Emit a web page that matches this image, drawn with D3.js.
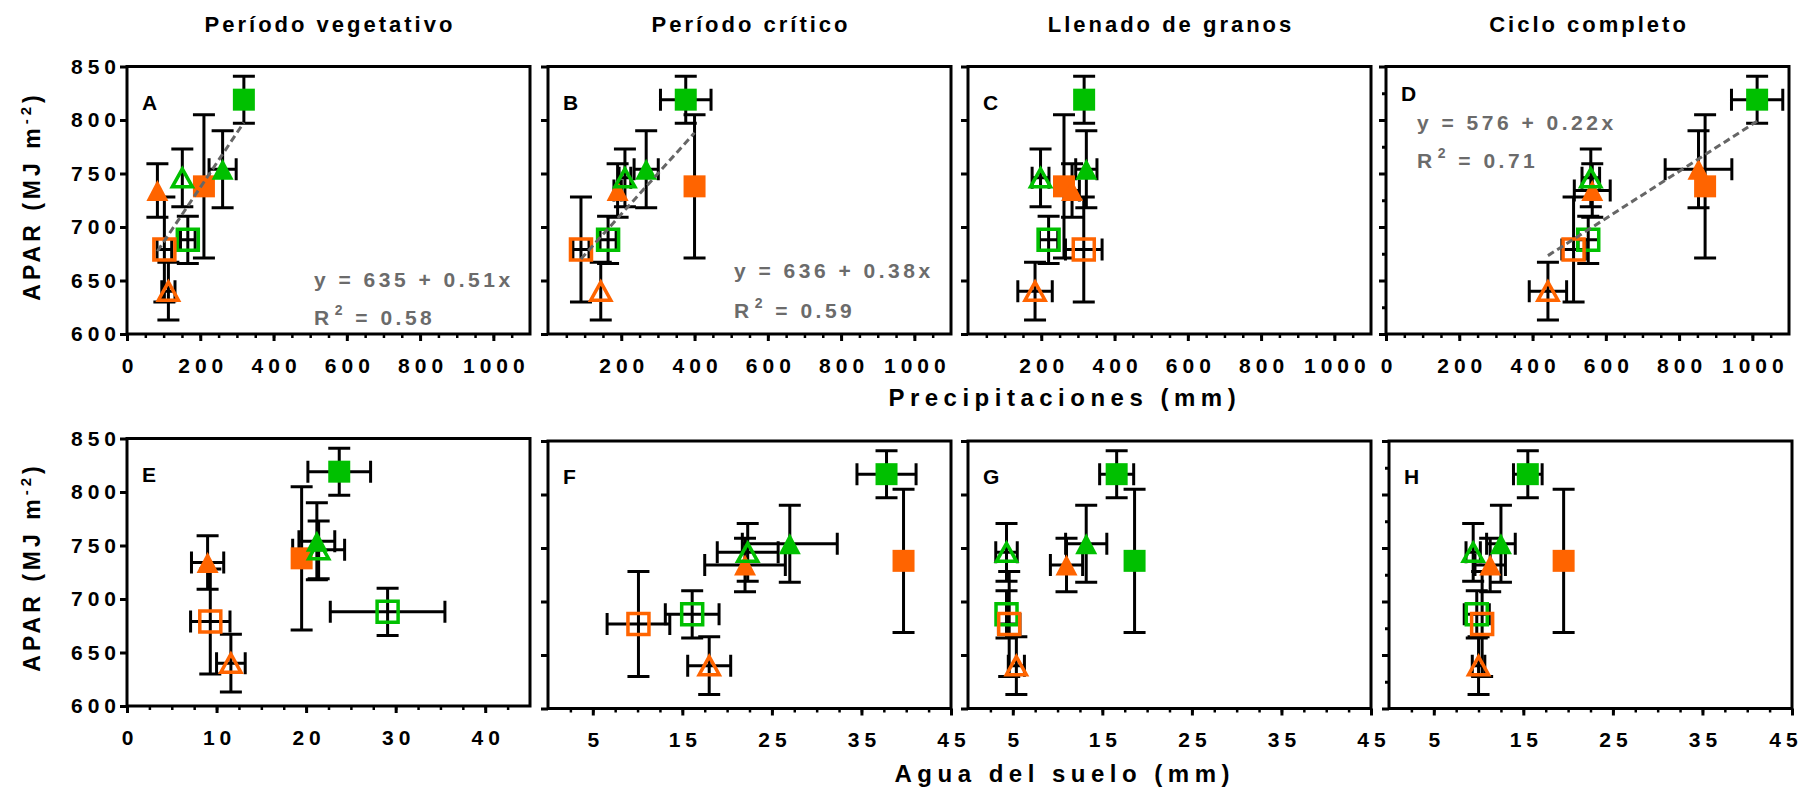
<!DOCTYPE html>
<html>
<head>
<meta charset="utf-8">
<script src="https://cdn.jsdelivr.net/npm/d3@7/dist/d3.min.js"></script>
<style>
  body { margin: 0; background: #fff; }
  svg text { font-family: "Liberation Sans", Arial, sans-serif; font-weight: bold; }
</style>
</head>
<body>
<div id="chart"></div>
<script>
// series order: green filled sq, orange filled sq, green filled tri, orange filled tri,
// green open tri, orange open tri, green open sq, orange open sq
var seriesShape = ['square', 'square', 'triangle', 'triangle', 'triangle', 'triangle', 'square', 'square'];
var seriesColor = ['green', 'orange', 'green', 'orange', 'green', 'orange', 'green', 'orange'];
var seriesOpen  = [false, false, false, false, true, true, true, true];

// APAR (MJ m-2), same in every panel
var apar    = [819, 738, 754, 734, 746, 640, 688, 679];
var aparErr = [22, 67, 36, 25, 27, 27, 22, 49];

// Precipitaciones (mm)
var ppVeg      = [319, 210, 261, 83, 151, 113, 166, 102];
var ppVegErr   = [0, 0, 37, 0, 0, 18, 20, 20];
var ppCrit     = [376, 400, 268, 190, 210, 144, 164, 90];
var ppCritErr  = [69, 0, 33, 10, 16, 0, 22, 22];
var ppLlen     = [317, 262, 323, 284, 198, 183, 220, 316];
var ppLlenErr  = [0, 0, 29, 20, 23, 47, 25, 50];
var ppCiclo    = [1013, 871, 853, 563, 559, 442, 552, 512];
var ppCicloErr = [70, 0, 91, 49, 24, 51, 28, 32];

// Agua del suelo (mm)
var swVeg      = [23.7, 19.5, 21.2, 9.0, 21.4, 11.6, 29.1, 9.3];
var swVegErr   = [3.5, 0, 2.0, 1.8, 2.9, 1.6, 6.4, 2.2];
var swCrit     = [37.8, 39.7, 27.0, 22.0, 22.3, 18.0, 16.1, 10.1];
var swCritErr  = [3.3, 0, 5.3, 4.5, 3.4, 2.4, 3.0, 3.5];
var swLlen     = [16.6, 18.6, 13.2, 11.0, 4.3, 5.4, 4.3, 4.6];
var swLlenErr  = [1.9, 0, 2.3, 1.8, 1.2, 0.9, 0, 1.2];
var swCiclo    = [15.5, 19.5, 12.5, 11.3, 9.4, 10.0, 9.8, 10.4];
var swCicloErr = [1.6, 0, 1.6, 1.7, 0.8, 0.7, 1.4, 0];

var stageTitles = ['Período vegetativo', 'Período crítico', 'Llenado de granos', 'Ciclo completo'];
var ppTicks   = [0, 200, 400, 600, 800, 1000];
var swTicksE  = [0, 10, 20, 30, 40];
var swTicks   = [5, 15, 25, 35, 45];
var aparTicks = [600, 650, 700, 750, 800, 850];
var aparMinor = [625, 675, 725, 775, 825];

// linear fits
var fitPanels    = ['A', 'B', 'D'];
var fitIntercept = [635, 636, 576];
var fitSlope     = [0.51, 0.38, 0.22];
var fitR2        = [0.58, 0.59, 0.71];

var colors = { green: '#00c000', orange: '#ff6400' };
// the original swaps a couple of colours
var colorFix = { D: { 2: 'orange' }, G: { 1: 'green' } };

var W = 1807, H = 787, PW = 403, PH = 267.5;
var TICK_LS = 5;

var panels = [
  { id: 'A', xs: ppVeg,   xe: ppVegErr,   left: 127,  top: 66.5, dom: [0, 1100], major: ppTicks,          step: 50,  yLabels: true },
  { id: 'B', xs: ppCrit,  xe: ppCritErr,  left: 548,  top: 66.5, dom: [0, 1100], major: ppTicks.slice(1), step: 50 },
  { id: 'C', xs: ppLlen,  xe: ppLlenErr,  left: 968,  top: 66.5, dom: [0, 1100], major: ppTicks.slice(1), step: 50 },
  { id: 'D', xs: ppCiclo, xe: ppCicloErr, left: 1386, top: 66.5, dom: [0, 1100], major: ppTicks,          step: 50,  yMinor: true, letterY: 34 },
  { id: 'E', xs: swVeg,   xe: swVegErr,   left: 127,  top: 438.5, dom: [0, 45],  major: swTicksE,         step: 2.5, yLabels: true },
  { id: 'F', xs: swCrit,  xe: swCritErr,  left: 548,  top: 441,  dom: [0, 45],   major: swTicks,          step: 2.5 },
  { id: 'G', xs: swLlen,  xe: swLlenErr,  left: 968,  top: 441,  dom: [0, 45],   major: swTicks,          step: 2.5 },
  { id: 'H', xs: swCiclo, xe: swCicloErr, left: 1389, top: 441,  dom: [0, 45],   major: swTicks,          step: 2.5, yMinor: true, lastShift: -9 }
];
var fitTextPos = { A: [187, 220.5, 258.5], B: [186, 211.5, 251.5], D: [31, 63.5, 101.5] };

var svg = d3.select('#chart').append('svg')
  .attr('width', W)
  .attr('height', H);

function styleAxis(sel) {
  sel.select('.domain').remove();
  sel.selectAll('line').attr('stroke', '#000').attr('stroke-width', 3);
  sel.selectAll('text')
    .attr('fill', '#000')
    .style('font-size', '21px')
    .style('letter-spacing', TICK_LS + 'px');
}

function markerPath(shape, open) {
  if (shape === 'square') {
    var s = open ? 10.5 : 11;
    return 'M' + (-s) + ',' + (-s) + 'H' + s + 'V' + s + 'H' + (-s) + 'Z';
  }
  var w = open ? 10 : 11, h = open ? 9 : 10.5;
  return 'M0,' + (-h) + 'L' + w + ',' + h + 'L' + (-w) + ',' + h + 'Z';
}

panels.forEach(function(p) {
  var g = svg.append('g').attr('transform', 'translate(' + p.left + ',' + p.top + ')');
  var x = d3.scaleLinear().domain(p.dom).range([0, PW]);
  var y = d3.scaleLinear().domain([600, 850]).range([PH, 0]);

  // y axis
  var yAx = g.append('g').call(d3.axisLeft(y).tickValues(aparTicks).tickSize(7).tickPadding(4)
    .tickFormat(p.yLabels ? d3.format('d') : ''));
  styleAxis(yAx);
  yAx.selectAll('text').attr('dx', TICK_LS);
  if (p.yMinor) {
    styleAxis(g.append('g').call(d3.axisLeft(y).tickValues(aparMinor).tickSize(4).tickFormat('')));
  }

  // x axis, minor then major
  var minor = d3.range(p.step, p.dom[1] - p.step / 2, p.step);
  var xMin = g.append('g').attr('transform', 'translate(0,' + PH + ')')
    .call(d3.axisBottom(x).tickValues(minor).tickSize(4).tickFormat(''));
  styleAxis(xMin);
  xMin.selectAll('line').attr('stroke-width', 2.5);
  var xAx = g.append('g').attr('transform', 'translate(0,' + PH + ')')
    .call(d3.axisBottom(x).tickValues(p.major).tickSize(7).tickPadding(17).tickFormat(d3.format('d')));
  styleAxis(xAx);
  xAx.selectAll('text').attr('dx', function(d, i, n) {
    return TICK_LS / 2 + (p.lastShift && i === n.length - 1 ? p.lastShift : 0);
  });

  // frame
  g.append('rect')
    .attr('width', PW)
    .attr('height', PH)
    .attr('fill', 'none')
    .attr('stroke', '#000')
    .attr('stroke-width', 3);

  // panel letter
  g.append('text')
    .attr('x', 15)
    .attr('y', p.letterY || 43)
    .style('font-size', '21px')
    .text(p.id);

  var idx = d3.range(apar.length);

  // error bars
  var eb = g.append('g').attr('stroke', '#000').attr('stroke-width', 3).attr('fill', 'none');
  idx.forEach(function(i) {
    var cx = x(p.xs[i]), cy = y(apar[i]);
    var y0 = y(apar[i] - aparErr[i]), y1 = y(apar[i] + aparErr[i]);
    eb.append('path').attr('d', 'M' + cx + ',' + y0 + 'V' + y1 +
      'M' + (cx - 11) + ',' + y0 + 'H' + (cx + 11) +
      'M' + (cx - 11) + ',' + y1 + 'H' + (cx + 11));
    if (p.xe[i] > 0) {
      var x0 = x(p.xs[i] - p.xe[i]), x1 = x(p.xs[i] + p.xe[i]);
      eb.append('path').attr('d', 'M' + x0 + ',' + cy + 'H' + x1 +
        'M' + x0 + ',' + (cy - 11) + 'V' + (cy + 11) +
        'M' + x1 + ',' + (cy - 11) + 'V' + (cy + 11));
    }
  });

  // markers
  idx.forEach(function(i) {
    var c = colors[(colorFix[p.id] && colorFix[p.id][i]) || seriesColor[i]];
    g.append('path')
      .attr('transform', 'translate(' + x(p.xs[i]) + ',' + y(apar[i]) + ')')
      .attr('d', markerPath(seriesShape[i], seriesOpen[i]))
      .attr('fill', seriesOpen[i] ? 'none' : c)
      .attr('stroke', seriesOpen[i] ? c : 'none')
      .attr('stroke-width', 3.5);
  });

  // fit line and equation
  var k = fitPanels.indexOf(p.id);
  if (k >= 0) {
    var ext = d3.extent(p.xs);
    g.append('line')
      .attr('x1', x(ext[0])).attr('y1', y(fitIntercept[k] + fitSlope[k] * ext[0]))
      .attr('x2', x(ext[1])).attr('y2', y(fitIntercept[k] + fitSlope[k] * ext[1]))
      .attr('stroke', '#666')
      .attr('stroke-width', 3)
      .attr('stroke-dasharray', '7,4');
    var tp = fitTextPos[p.id];
    g.append('text')
      .attr('x', tp[0]).attr('y', tp[1])
      .attr('fill', '#6b6b6b')
      .style('font-size', '21px')
      .style('letter-spacing', '3.5px')
      .text('y = ' + fitIntercept[k] + ' + ' + fitSlope[k].toFixed(2) + 'x');
    var r = g.append('text')
      .attr('x', tp[0]).attr('y', tp[2])
      .attr('fill', '#6b6b6b')
      .style('font-size', '21px')
      .style('letter-spacing', '3.5px');
    r.append('tspan').text('R');
    r.append('tspan').attr('dx', 2).attr('dy', -10).style('font-size', '14px').text('2');
    r.append('tspan').attr('dy', 10).text(' = ' + fitR2[k].toFixed(2));
  }
});

// stage titles
stageTitles.forEach(function(t, i) {
  svg.append('text')
    .attr('x', panels[i].left + PW / 2 + 1.5)
    .attr('y', 32)
    .attr('text-anchor', 'middle')
    .style('font-size', '22px')
    .style('letter-spacing', '3px')
    .text(t);
});

// axis titles
function xTitle(txt, yy) {
  svg.append('text')
    .attr('x', 1062 + 2.75)
    .attr('y', yy)
    .attr('text-anchor', 'middle')
    .style('font-size', '24px')
    .style('letter-spacing', '5.5px')
    .text(txt);
}
xTitle('Precipitaciones (mm)', 406);
xTitle('Agua del suelo (mm)', 782);

[196, 567].forEach(function(cy) {
  var t = svg.append('text')
    .attr('transform', 'translate(40,' + cy + ') rotate(-90)')
    .attr('text-anchor', 'middle')
    .style('font-size', '23px')
    .style('letter-spacing', '4px');
  t.append('tspan').text('APAR (MJ m');
  t.append('tspan').attr('dy', -9).style('font-size', '15px').text('-2');
  t.append('tspan').attr('dy', 9).text(')');
});
</script>
</body>
</html>
